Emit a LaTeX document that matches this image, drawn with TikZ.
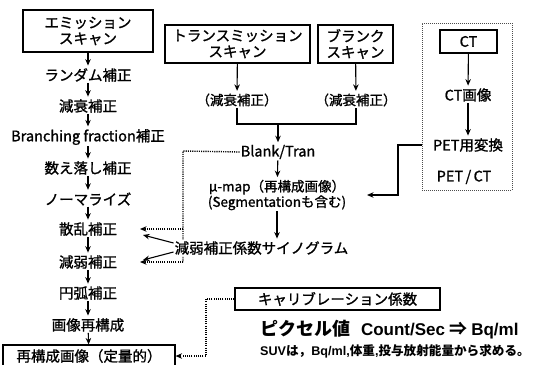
\documentclass[tikz,border=0pt]{standalone}
\usepackage{fontspec}
\setmainfont{Noto Sans CJK JP}[FakeBold=1.2]
\newfontfamily\jpb{Noto Sans CJK JP}
\newfontfamily\arial{Liberation Sans}
\usetikzlibrary{arrows.meta}
\begin{document}
\begin{tikzpicture}[x=1pt,y=-1pt,
  lbl/.style={inner sep=1pt,font=\fontsize{14.5}{17}\selectfont},
  sml/.style={inner sep=1pt,font=\fontsize{13.5}{15}\selectfont},
  box/.style={draw,line width=1.1pt,inner sep=0pt,align=center,font=\fontsize{14.5}{16}\selectfont},
  ln/.style={line width=1.1pt},
  arr/.style={line width=1.1pt,-{Stealth[length=6.5pt,width=5.5pt]}},
  sarr/.style={arr,shorten >=1.5pt},
  dotl/.style={line width=1.4pt,dash pattern=on 1.1pt off 1.1pt},
  dotarr/.style={dotl,-{Stealth[length=6.5pt,width=5.5pt]}},
  frm/.style={draw=black!70,line width=0.8pt,dash pattern=on 1pt off 1pt}]
\path[use as bounding box] (0,0) rectangle (537,364);
% left column
\node[box,minimum width=130pt,minimum height=42pt] (em) at (88,31) {エミッション\\スキャン};
\node[lbl] (r1) at (88,75) {ランダム補正};
\node[lbl] (r2) at (88,106) {減衰補正};
\node[lbl] (r3) at (88,137) {Branching fraction補正};
\node[lbl] (r4) at (88,168) {数え落し補正};
\node[lbl] (r5) at (88,199) {ノーマライズ};
\node[lbl] (r6) at (88,229) {散乱補正};
\node[lbl] (r7) at (88,262) {減弱補正};
\node[lbl] (r8) at (88,293) {円弧補正};
\node[lbl] (r9) at (88,325) {画像再構成};
\node[box,minimum width=172pt,minimum height=22pt] (rc) at (89,356) {再構成画像（定量的）};
\draw[sarr] (em) -- (r1);
\draw[sarr] (r1) -- (r2);
\draw[sarr] (r2) -- (r3);
\draw[sarr] (r3) -- (r4);
\draw[sarr] (r4) -- (r5);
\draw[sarr] (r5) -- (r6);
\draw[sarr] (r6) -- (r7);
\draw[sarr] (r7) -- (r8);
\draw[sarr] (r8) -- (r9);
\draw[arr] (r9) -- (rc);
% middle column
\node[box,minimum width=145pt,minimum height=38pt] (tr) at (237.5,44) {トランスミッション\\スキャン};
\node[box,minimum width=75pt,minimum height=38pt] (bl) at (355.5,44) {ブランク\\スキャン};
\node[sml] (g1) at (237,100) {（減衰補正）};
\node[sml] (g2) at (356,100) {（減衰補正）};
\draw[sarr] (tr) -- (g1);
\draw[sarr] (bl) -- (g2);
\coordinate (bL) at (237,124);
\coordinate (bR) at (356,124);
\coordinate (bM) at (278,124);
\draw[ln] (g1.south) -- (bL) -- (bR) -- (g2.south);
\node[lbl] (bt) at (278,152) {Blank/Tran};
\draw[sarr] (bM) -- (bt);
\node[sml,align=center,font=\fontsize{13.5}{14}\selectfont] (mm) at (277,195) {μ-map（再構成画像）\\(Segmentationも含む)};
\draw[sarr] (bt) -- (mm);
% dotted from Blank/Tran
\coordinate (d1) at (183,151);
\coordinate (d2) at (183,229);
\coordinate (d3) at (183,262);
\coordinate (t6) at (140,229);
\coordinate (t7) at (140,262);
\draw[dotl] (bt.west) -- (d1) -- (d3);
\draw[dotarr] (d2) -- (t6);
\draw[dotarr] (d3) -- (t7);
\node[lbl,fill=white] (sg) at (261.5,248) {減弱補正係数サイノグラム};
\draw[sarr] (mm.south) -- (mm.south |- sg.north);
\coordinate (s6) at (143,235);
\coordinate (s7) at (143,260);
\draw[arr] ([yshift=5pt]sg.west) -- (s6);
\draw[arr] ([yshift=-4pt]sg.west) -- (s7);
% PET/CT frame
\node[frm,minimum width=90pt,minimum height=167pt,inner sep=0pt] (frame) at (467,106.5) {};
\node[box,minimum width=57pt,minimum height=23pt] (ct) at (468.5,41.5) {CT};
\node[lbl] (cti) at (468,95) {CT画像};
\node[lbl] (pet) at (468,145) {PET用変換};
\node[lbl] (pc) at (464,177) {PET\,/\,CT};
\draw[sarr] (ct) -- (cti);
\draw[sarr] (cti) -- (pet);
\coordinate (p1) at (398,145);
\coordinate (mtip) at (367,195);
\draw[arr] (frame.west |- pet) -- (p1) |- (mtip);
% calibration
\node[box,minimum width=205pt,minimum height=22pt] (cal) at (337.5,299) {キャリブレーション係数};
\coordinate (c1) at (206,299);
\coordinate (c2) at (206,356);
\draw[dotarr] (cal.west) -- (c1) -- (c2) -- (rc.east);
\node[anchor=west,inner sep=0pt,font=\jpb\bfseries\fontsize{18}{20}\selectfont] (px) at (260,330) {ピクセル値\hspace{0.6em}{\arial\fontsize{17}{20}\selectfont Count/Sec} ⇒ {\arial\fontsize{17}{20}\selectfont Bq/ml}};
\node[anchor=west,inner sep=0pt,font=\jpb\bfseries\fontsize{12.6}{14}\selectfont] (suv) at (260,351) {{\arial SUV}は，{\arial Bq/ml,}体重{\arial ,}投与放射能量から求める。};
\end{tikzpicture}
\end{document}
